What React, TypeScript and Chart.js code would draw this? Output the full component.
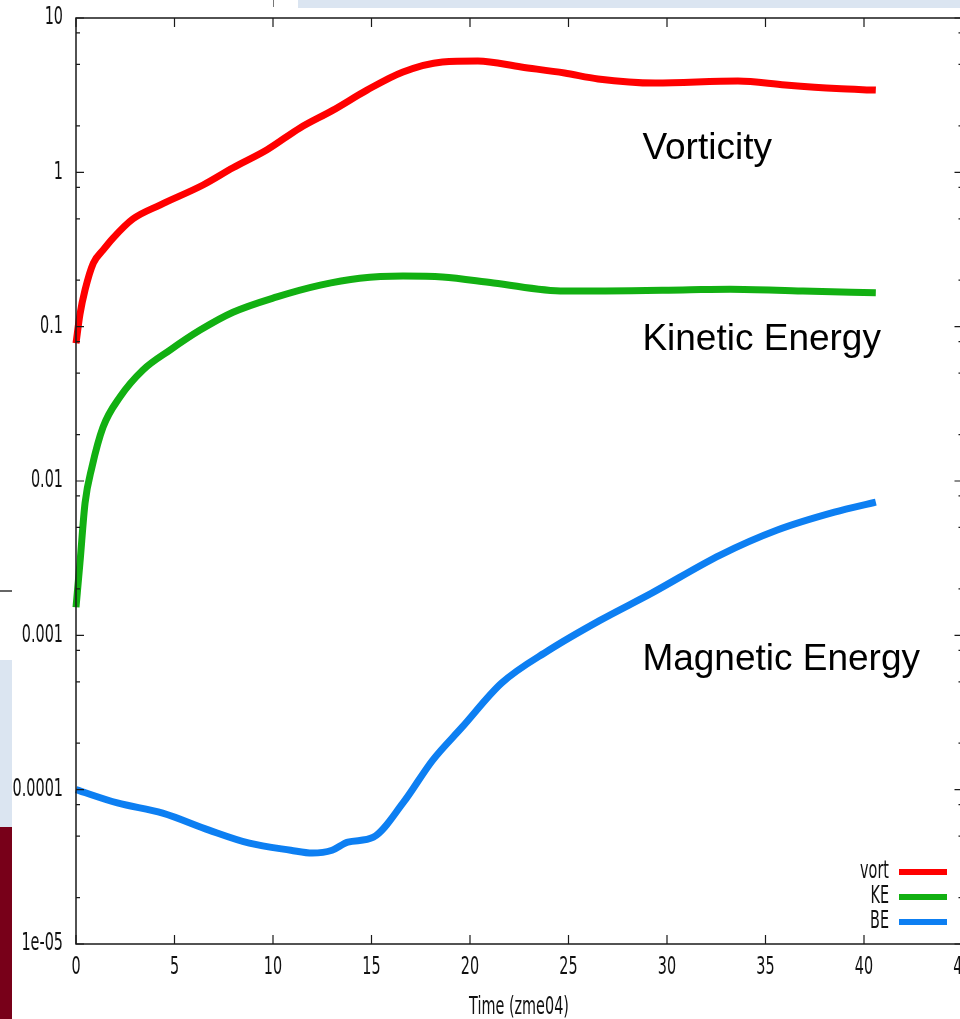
import React, { useEffect, useRef } from "react";
import { Chart, registerables } from "chart.js";

Chart.register(...registerables);

// ---- data ----
const vortT = [0, 0.2, 0.46, 0.88, 1.37, 1.88, 2.9, 4.26, 6.45, 7.97, 9.7, 11.37, 13.05, 14.77, 16.6, 18.6, 20.4, 22.6, 24.8, 26.5, 29.4, 33.6, 36.0, 38.6, 40.6];
const vortV = [0.078, 0.12, 0.173, 0.258, 0.313, 0.375, 0.5, 0.614, 0.828, 1.07, 1.4, 1.94, 2.53, 3.41, 4.47, 5.19, 5.27, 4.81, 4.4, 4.03, 3.79, 3.91, 3.68, 3.49, 3.41];

const keT = [0, 0.2, 0.46, 0.81, 1.37, 2.23, 3.4, 4.77, 6.3, 7.97, 10.2, 12.4, 14.4, 16.6, 18.6, 21.2, 24.8, 30.8, 33.2, 36.9, 40.6];
const keV = [0.00152, 0.00294, 0.0072, 0.0123, 0.0223, 0.035, 0.0524, 0.0705, 0.095, 0.124, 0.156, 0.186, 0.206, 0.213, 0.21, 0.192, 0.17, 0.173, 0.175, 0.17, 0.166];

const beT = [0, 2.1, 4.4, 6.75, 8.8, 10.9, 12.0, 13.0, 13.8, 15.1, 16.6, 18.1, 19.6, 21.6, 24.0, 26.6, 29.2, 32.7, 35.6, 38.5, 40.6];
const beV = [1.0e-4, 8.2e-5, 7.05e-5, 5.47e-5, 4.5e-5, 4.05e-5, 3.88e-5, 4.05e-5, 4.57e-5, 4.92e-5, 8.2e-5, 1.55e-4, 2.54e-4, 4.9e-4, 8.0e-4, 1.25e-3, 1.87e-3, 3.31e-3, 4.81e-3, 6.28e-3, 7.3e-3];

const seriesNames = ["vort", "KE", "BE"];
const seriesColors = ["#ff0000", "#12b012", "#0d7ff2"];

const xTicks = [0, 5, 10, 15, 20, 25, 30, 35, 40, 45];
const xTickLabels = ["0", "5", "10", "15", "20", "25", "30", "35", "40", "45"];
const yTicks = [1e-5, 1e-4, 1e-3, 1e-2, 1e-1, 1, 10];
const yTickLabels = ["1e-05", "0.0001", "0.001", "0.01", "0.1", "1", "10"];
const yMinorMult = [2, 5, 8];

const xTitle = "Time (zme04)";
const annotations = [
  { text: "Vorticity", x: 28.75, y: 1.43 },
  { text: "Kinetic Energy", x: 28.75, y: 0.082 },
  { text: "Magnetic Energy", x: 28.75, y: 6.9e-4 },
];

const TICK_FONT = "24px 'DejaVu Sans', sans-serif";
const SX = 0.6;

function drawText(ctx: CanvasRenderingContext2D, s: string, x: number, y: number, align: CanvasTextAlign, font: string, sx: number) {
  ctx.save();
  ctx.font = font;
  ctx.textBaseline = "middle";
  ctx.textAlign = align;
  ctx.translate(x, y);
  ctx.scale(sx, 1);
  ctx.fillStyle = "#111";
  ctx.fillText(s, 0, 0);
  ctx.restore();
}

const framePlugin = {
  id: "gnuFrame",
  afterDatasetsDraw(chart: any) {
    const ctx: CanvasRenderingContext2D = chart.ctx;
    const { left, right, top, bottom } = chart.chartArea;
    const xs = chart.scales.x;
    const ys = chart.scales.y;
    ctx.save();
    ctx.strokeStyle = "#1a1a1a";
    ctx.lineWidth = 1.5;
    ctx.strokeRect(left, top, right - left, bottom - top);
    ctx.lineWidth = 1.2;
    // x ticks
    xTicks.forEach((v, i) => {
      const px = xs.getPixelForValue(v);
      ctx.beginPath();
      ctx.moveTo(px, bottom);
      ctx.lineTo(px, bottom - 9);
      ctx.moveTo(px, top);
      ctx.lineTo(px, top + 9);
      ctx.stroke();
      drawText(ctx, xTickLabels[i], px, 968, "center", TICK_FONT, SX);
    });
    // y ticks
    yTicks.forEach((v, i) => {
      const py = ys.getPixelForValue(v);
      ctx.beginPath();
      ctx.moveTo(left, py);
      ctx.lineTo(left + 8, py);
      ctx.moveTo(right, py);
      ctx.lineTo(right - 8, py);
      ctx.stroke();
      drawText(ctx, yTickLabels[i], 63, py, "right", TICK_FONT, SX);
      if (i < yTicks.length - 1) {
        yMinorMult.forEach((m) => {
          const mp = ys.getPixelForValue(v * m);
          ctx.beginPath();
          ctx.moveTo(left, mp);
          ctx.lineTo(left + 4, mp);
          ctx.moveTo(right, mp);
          ctx.lineTo(right - 4, mp);
          ctx.stroke();
        });
      }
    });
    drawText(ctx, xTitle, 519, 1008, "center", TICK_FONT, SX);
    // annotations
    annotations.forEach((a) => {
      ctx.save();
      ctx.font = "37px 'Liberation Sans', Arial, sans-serif";
      ctx.fillStyle = "#000";
      ctx.textAlign = "left";
      ctx.textBaseline = "middle";
      ctx.fillText(a.text, xs.getPixelForValue(a.x), ys.getPixelForValue(a.y));
      ctx.restore();
    });
    // legend
    seriesNames.forEach((n, i) => {
      const ly = 872 + i * 25;
      drawText(ctx, n, 889, ly, "right", TICK_FONT, SX);
      ctx.save();
      ctx.strokeStyle = seriesColors[i];
      ctx.lineWidth = 6;
      ctx.beginPath();
      ctx.moveTo(899, ly);
      ctx.lineTo(947, ly);
      ctx.stroke();
      ctx.restore();
    });
    ctx.restore();
  },
};

function toXY(t: number[], v: number[]) {
  return t.map((x, i) => ({ x, y: v[i] }));
}

export default function App() {
  const ref = useRef<HTMLCanvasElement>(null);
  useEffect(() => {
    if (!ref.current) return;
    const chart = new Chart(ref.current, {
      type: "line",
      data: {
        datasets: [
          { label: seriesNames[0], data: toXY(vortT, vortV), borderColor: seriesColors[0] },
          { label: seriesNames[1], data: toXY(keT, keV), borderColor: seriesColors[1] },
          { label: seriesNames[2], data: toXY(beT, beV), borderColor: seriesColors[2] },
        ].map((d) => ({
          ...d,
          borderWidth: 7,
          pointRadius: 0,
          fill: false,
          cubicInterpolationMode: "monotone" as const,
          borderCapStyle: "butt" as const,
          clip: false as any,
        })),
      },
      options: {
        responsive: false,
        animation: false,
        devicePixelRatio: 1,
        layout: { padding: { left: 76, top: 18, right: 1000 - 962.5, bottom: 1019 - 944 } },
        plugins: { legend: { display: false }, tooltip: { enabled: false } },
        scales: {
          x: { type: "linear", min: 0, max: 45, display: false },
          y: { type: "logarithmic", min: 1e-5, max: 10, display: false },
        },
      },
      plugins: [framePlugin],
    });
    return () => chart.destroy();
  }, []);

  return (
    <div style={{ position: "fixed", left: 0, top: 0, width: 960, height: 1019, overflow: "hidden", background: "#fff" }}>
      <div style={{ position: "absolute", left: 298, top: 0, width: 662, height: 8, background: "#dbe5f1" }} />
      <div style={{ position: "absolute", left: 273, top: 0, width: 1, height: 7, background: "#777" }} />
      <div style={{ position: "absolute", left: 0, top: 590, width: 12, height: 2, background: "#666" }} />
      <div style={{ position: "absolute", left: 0, top: 660, width: 12, height: 167, background: "#dbe5f1" }} />
      <div style={{ position: "absolute", left: 0, top: 827, width: 12, height: 192, background: "#780019" }} />
      <canvas ref={ref} width={1000} height={1019} style={{ position: "absolute", left: 0, top: 0, width: 1000, height: 1019 }} />
    </div>
  );
}
